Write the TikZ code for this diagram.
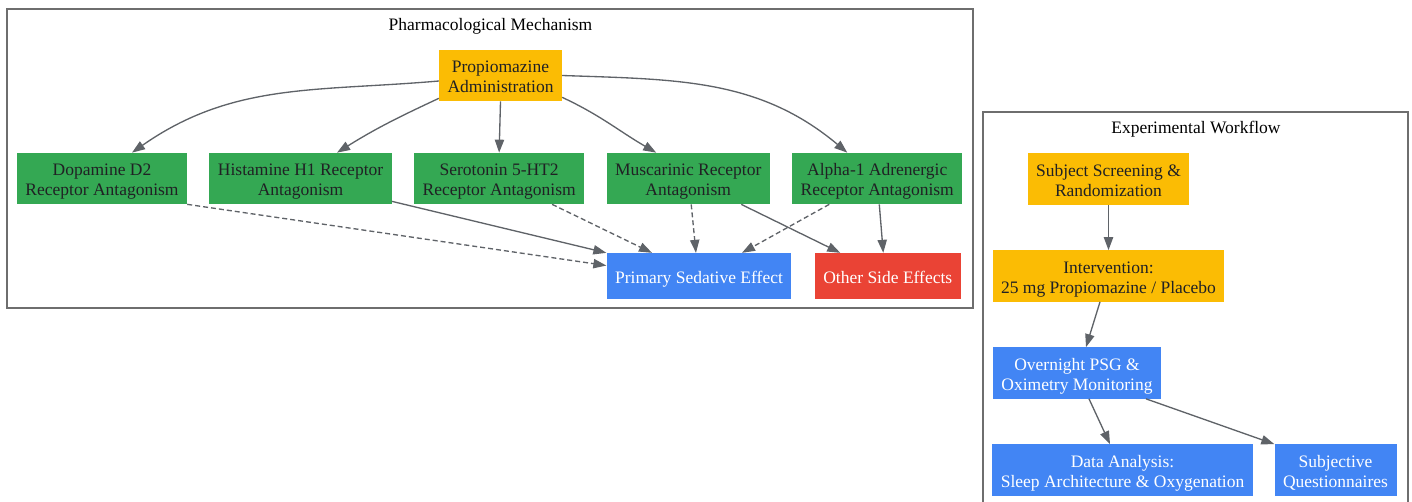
\documentclass[tikz,border=0pt]{standalone}
\usepackage{fontspec}
\setmainfont{Liberation Serif}
\usetikzlibrary{arrows.meta,positioning}
\definecolor{gyellow}{HTML}{FBBC04}
\definecolor{ggreen}{HTML}{34A853}
\definecolor{gblue}{HTML}{4285F4}
\definecolor{gred}{HTML}{EA4335}
\definecolor{gtext}{HTML}{202124}
\definecolor{gedge}{HTML}{5F6368}
\definecolor{gframe}{HTML}{6E6E6E}

\begin{document}
\begin{tikzpicture}[x=1pt,y=-1pt,auto,node distance=22pt,
  main node/.style={rectangle,align=center,inner xsep=8.5pt,inner ysep=4pt,
    text height=38.7pt,text depth=4.6pt,
    font=\fontsize{17.5pt}{20pt}\selectfont,text=gtext},
  single/.style={text height=26pt,text depth=12pt},
  drug node/.style={main node,fill=gyellow},
  mech node/.style={main node,fill=ggreen},
  out node/.style={main node,fill=gblue,text=white},
  side node/.style={main node,fill=gred,text=white},
  title node/.style={font=\fontsize{17.5pt}{20pt}\selectfont,text=black},
  frame/.style={draw=gframe,line width=1.2pt}]
  \useasboundingbox (0,0) rectangle (1412,502);

  % clusters
  \draw[frame] (7,9) rectangle (973,308);
  \draw[frame] (983,502) -- (983,112) -- (1408,112) -- (1408,502);
  \node[title node] (t1) at (490.5,26.5) {Pharmacological Mechanism};
  \node[title node] (t2) at (1196,129.5) {Experimental Workflow};

  % mechanism
  \node[drug node] (1) at (500.5,75.5) {Propiomazine\\Administration};
  \node[mech node] (2) at (102,178.5) {Dopamine D2\\Receptor Antagonism};
  \node[mech node] (3) [right=of 2] {Histamine H1 Receptor\\Antagonism};
  \node[mech node] (4) [right=of 3] {Serotonin 5-HT2\\Receptor Antagonism};
  \node[mech node] (5) [right=of 4] {Muscarinic Receptor\\Antagonism};
  \node[mech node] (6) [right=of 5] {Alpha-1 Adrenergic\\Receptor Antagonism};
  \node[out node,single] (7) [below=48.5pt of 5.south west,anchor=north west] {Primary Sedative Effect};
  \node[side node,single] (8) [right=23pt of 7] {Other Side Effects};

  % workflow
  \node[drug node] (9) at (1108.5,179) {Subject Screening \&\\Randomization};
  \node[drug node] (10) at (1108.5,276) {Intervention:\\25 mg Propiomazine / Placebo};
  \node[out node] (11) at (1077,373) {Overnight PSG \&\\Oximetry Monitoring};
  \node[out node] (12) at (1122.5,470) {Data Analysis:\\Sleep Architecture \& Oxygenation};
  \node[out node] (13) at (1335.5,470) {Subjective\\Questionnaires};

  \path[every edge/.style={draw=gedge,line width=1.33pt,-{Triangle[length=13pt,width=9.3pt]}}]
    ([yshift=-5.5pt]1.west) edge[out=185,in=35] ([xshift=30pt]2.north)
    ([yshift=3pt]1.south west) edge[out=205,in=32] ([xshift=36.5pt]3.north)
    (1.south) edge (4.north)
    ([yshift=4pt]1.south east) edge[out=-25,in=150] ([xshift=-32pt]5.north)
    (1.east) edge[out=-2,in=140] ([xshift=-30pt]6.north)
    ([yshift=3pt]3.south east) edge (7.north west)
    ([xshift=53pt]5.south) edge ([xshift=-47.5pt]8.north)
    ([xshift=2pt]6.south) edge ([xshift=-4.5pt]8.north);

  \path[every edge/.style={draw=gedge,line width=1.33pt,dash pattern=on 5pt off 3pt,-{Triangle[length=13pt,width=9.3pt]}}]
    (2.south east) edge ([yshift=10.5pt]7.west)
    ([xshift=53pt]4.south) edge ([xshift=-47pt]7.north)
    ([xshift=3pt]5.south) edge ([xshift=-3pt]7.north)
    ([xshift=-48pt]6.south) edge ([xshift=43pt]7.north);

  \path[every edge/.style={draw=gedge,line width=1.33pt,-{Triangle[length=13pt,width=9.3pt]}}]
    (9.south) edge (10.north)
    ([xshift=-8.5pt]10.south) edge ([xshift=9pt]11.north)
    ([xshift=12pt]11.south) edge ([xshift=-12.5pt]12.north)
    ([xshift=69pt]11.south) edge (13.north west);
\end{tikzpicture}
\end{document}
